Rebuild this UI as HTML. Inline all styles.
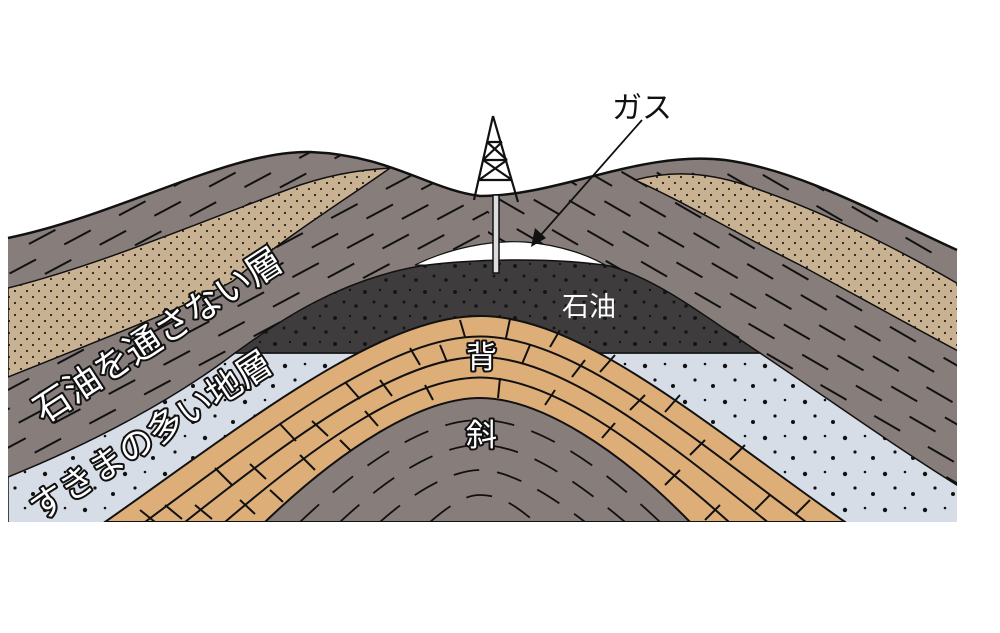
<!DOCTYPE html>
<html><head><meta charset="utf-8"><style>
html,body{margin:0;padding:0;background:#fff;}
svg{display:block;}
.lab{font-family:"Liberation Sans","Noto Sans CJK JP",sans-serif;}
</style></head><body>
<svg width="1000" height="633" viewBox="0 0 1000 633" xmlns="http://www.w3.org/2000/svg">
<defs>
<pattern id="dl" width="62" height="34" patternUnits="userSpaceOnUse" patternTransform="rotate(-28)">
<line x1="4" y1="8" x2="34" y2="8" stroke="#111" stroke-width="2"/>
<line x1="35" y1="25" x2="65" y2="25" stroke="#111" stroke-width="2"/>
<line x1="-27" y1="25" x2="3" y2="25" stroke="#111" stroke-width="2"/>
</pattern>
<pattern id="dr" width="62" height="34" patternUnits="userSpaceOnUse" patternTransform="rotate(30)">
<line x1="4" y1="8" x2="34" y2="8" stroke="#111" stroke-width="2"/>
<line x1="35" y1="25" x2="65" y2="25" stroke="#111" stroke-width="2"/>
<line x1="-27" y1="25" x2="3" y2="25" stroke="#111" stroke-width="2"/>
</pattern>
<pattern id="dots" width="12" height="12" patternUnits="userSpaceOnUse">
<circle cx="3" cy="3" r="1.1" fill="#222"/><circle cx="9" cy="9" r="1.1" fill="#222"/>
</pattern>
<pattern id="bdots" width="40" height="36" patternUnits="userSpaceOnUse">
<circle cx="5" cy="6" r="2.2" fill="#111"/><circle cx="25" cy="4" r="1.3" fill="#111"/><circle cx="15" cy="20" r="1.6" fill="#111"/><circle cx="33" cy="26" r="2" fill="#111"/>
</pattern>
<pattern id="odots" width="30" height="26" patternUnits="userSpaceOnUse">
<circle cx="5" cy="6" r="2" fill="#111"/><circle cx="20" cy="4" r="1.2" fill="#111"/><circle cx="14" cy="16" r="1.5" fill="#111"/><circle cx="26" cy="20" r="1.8" fill="#111"/>
</pattern>
<clipPath id="frame"><path d="M8,238 C120,215 230,150 310,152 C390,155 430,190 480,196 C560,196 640,150 725,160 C800,170 880,215 957,250 L957,522 L8,522 Z"/></clipPath>
<clipPath id="lefthalf"><rect x="0" y="0" width="488" height="633"/></clipPath>
<clipPath id="righthalf"><rect x="488" y="0" width="512" height="633"/></clipPath>
</defs>
<g clip-path="url(#frame)">
<rect x="0" y="0" width="1000" height="633" fill="#877e7c"/>
<rect x="0" y="0" width="1000" height="633" fill="url(#dl)" clip-path="url(#lefthalf)"/>
<rect x="0" y="0" width="1000" height="633" fill="url(#dr)" clip-path="url(#righthalf)"/>
<path d="M8,288 C100,265 200,222 300,185 C340,172 365,170 390,168 C360,190 280,240 233,281 C190,305 133,327 8,377 Z" fill="#c9b292" stroke="#111" stroke-width="1.5"/>
<path d="M8,288 C100,265 200,222 300,185 C340,172 365,170 390,168 C360,190 280,240 233,281 C190,305 133,327 8,377 Z" fill="url(#dots)"/>
<path d="M635,180 C680,168 720,175 760,190 C830,215 900,250 960,285 L960,352 C900,320 850,292 800,265 C730,230 680,200 635,180 Z" fill="#c9b292" stroke="#111" stroke-width="1.5"/>
<path d="M635,180 C680,168 720,175 760,190 C830,215 900,250 960,285 L960,352 C900,320 850,292 800,265 C730,230 680,200 635,180 Z" fill="url(#dots)"/>
<path d="M8,477 C100,440 180,395 235,353 L760,353 C830,400 900,450 960,487 L960,530 L8,530 Z" fill="#d7dde7" stroke="#111" stroke-width="1.5"/>
<path d="M8,477 C100,440 180,395 235,353 L760,353 C830,400 900,450 960,487 L960,530 L8,530 Z" fill="url(#bdots)"/>
<path d="M415,265 C450,248 490,240 525,242 C560,245 590,255 610,268 Z" fill="#fff" stroke="#111" stroke-width="1.2"/>
<path d="M235,353 C280,320 340,280 420,266 C480,258 560,258 610,266 C660,280 710,320 760,353 Z" fill="#3e3c3d" stroke="#111" stroke-width="1.5"/>
<path d="M235,353 C280,320 340,280 420,266 C480,258 560,258 610,266 C660,280 710,320 760,353 Z" fill="url(#odots)" opacity="0.9"/>
<path d="M105,522 C250,420 380,316 480,316 C580,316 700,420 845,522 Z" fill="#ddae78" stroke="#111" stroke-width="2"/>
<g fill="none" stroke="#111" stroke-width="2">
<path d="M145,522 C272.5,427.5 390,336.5 480,336.5 C570,336.5 680,427.5 806,522"/>
<path d="M185,522 C295,435 400,357 480,357 C560,357 660,435 767.5,522"/>
<path d="M225,522 C317.5,442.5 410,377.5 480,377.5 C550,377.5 640,442.5 729,522"/>
<path d="M165,505 L182,519 M215,468 L232,485 M280,424 L296,441 M345,382 L360,399 M410,348 L420,365 M460,320 L465,337 M510,319 L506,338 M560,330 L550,347 M615,355 L600,372 M680,395 L665,412 M745,445 L730,460 M810,500 L795,515"/>
<path d="M195,505 L212,519 M250,464 L266,479 M312,421 L328,436 M380,380 L392,396 M440,345 L447,362 M530,345 L522,364 M585,360 L572,377 M645,395 L630,410 M705,440 L690,455 M770,495 L755,510"/>
<path d="M240,500 L255,514 M300,455 L315,470 M365,411 L378,426 M425,385 L433,400 M500,378 L498,398 M555,390 L545,405 M615,423 L602,438 M680,470 L665,485 M720,505 L705,520"/>
<path d="M140,510 L155,522 M270,490 L283,502 M340,440 L352,452"/>
</g>
<path d="M265,522 C340,450 420,398 480,398 C540,398 620,450 690,522 Z" fill="#877e7c" stroke="#111" stroke-width="2"/>
<g fill="none" stroke="#111" stroke-width="1.8" stroke-dasharray="26 18">
<path d="M300,522 C360,465 425,420 480,420 C535,420 600,465 660,522"/>
<path d="M340,522 C385,480 435,445 480,445 C525,445 575,480 625,522"/>
<path d="M380,522 C410,495 450,470 480,470 C510,470 550,495 585,522"/>
<path d="M430,522 C450,505 465,495 480,495 C500,495 515,505 535,522"/>
</g>
</g>
<path d="M8,238 C120,215 230,150 310,152 C390,155 430,190 480,196 C560,196 640,150 725,160 C800,170 880,215 957,250" fill="none" stroke="#111" stroke-width="2.5"/>
<g stroke="#111" stroke-width="2.2" fill="none">
<path d="M493,116 L474,200 M493,116 L518,202"/>
<path d="M487,142 L502,142 M483,160 L507,160 M479,180 L512,180"/>
<path d="M487,142 L507,160 M502,142 L483,160 M483,160 L512,180 M507,160 L479,180"/>
</g>
<rect x="493" y="195" width="6" height="78" fill="#ddd" stroke="#111" stroke-width="1.5"/>
<line x1="642" y1="120" x2="540" y2="236" stroke="#111" stroke-width="1.8"/>
<path d="M531,247 L535,228 L546,238 Z" fill="#111"/>
<text x="612" y="118" class="lab" font-size="30" fill="#111">ガス</text>
<text x="562" y="316" class="lab" font-size="27" fill="#fff">石油</text>
<g class="lab" fill="#fff" stroke="#111" stroke-width="4" paint-order="stroke" stroke-linejoin="round">
<text x="466" y="368" font-size="31">背</text>
<text x="466" y="446" font-size="31">斜</text>
<text transform="translate(44,424) rotate(-33)" font-size="36">石油を通さない層</text>
<text transform="translate(40,522) rotate(-33)" font-size="35">すきまの多い地層</text>
</g>
</svg>
</body></html>
